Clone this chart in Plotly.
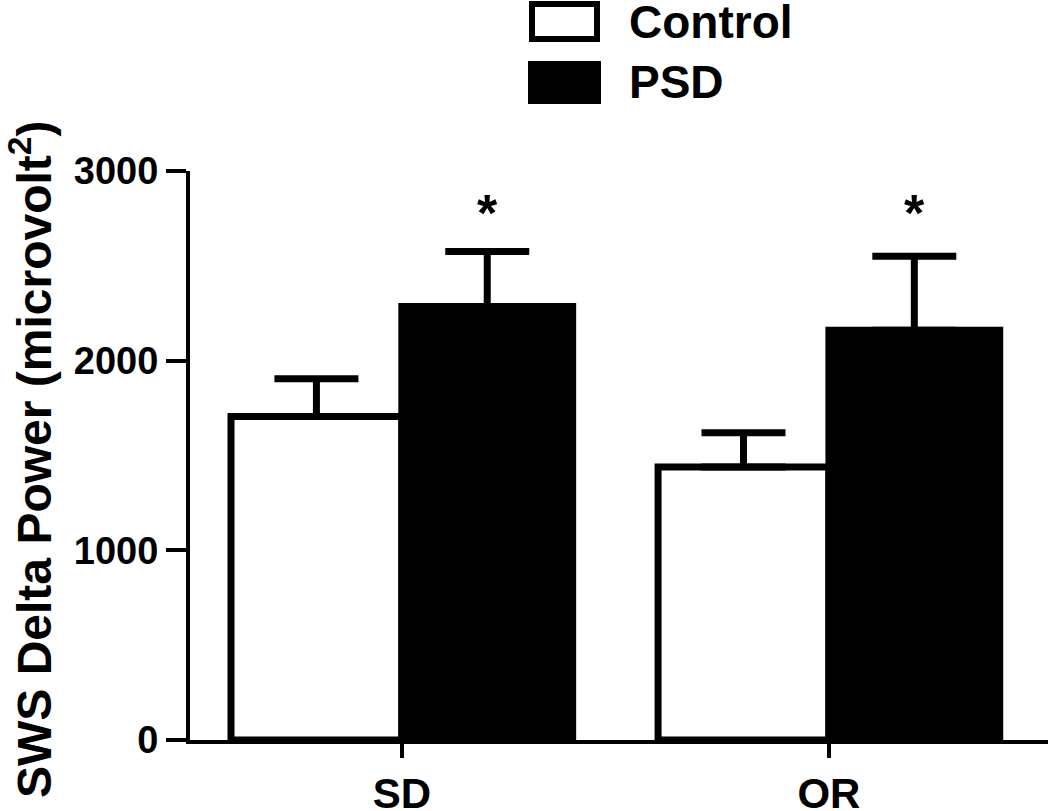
import plotly.graph_objects as go

# ---- data ----
categories = ["SD", "OR"]
series_names = ["Control", "PSD"]
control_mean = [1705, 1440]
control_err = [200, 180]
psd_mean = [2285, 2160]
psd_err = [290, 390]
significance = ["*", "*"]
y_ticks = [0, 1000, 2000, 3000]
y_title = "SWS Delta Power (microvolt<sup>2</sup>)"

# ---- layout constants (pixels) ----
W, H = 1050, 811
PLOT_X0, PLOT_X1, PLOT_Y0, PLOT_Y1 = 190, 1048, 171, 740
L = PLOT_X0
T = PLOT_Y0
PW = PLOT_X1 - PLOT_X0
PH = PLOT_Y1 - PLOT_Y0
R = W - L - PW
B = H - T - PH

def px_x(px):
    return (px - PLOT_X0) / PW

def px_y(py):
    return (PLOT_Y1 - py) / PH

FONT = "Liberation Sans, Arial, sans-serif"
LINE_W = 7

fig = go.Figure()
fig.add_trace(go.Bar(
    x=categories, y=control_mean, name=series_names[0],
    marker=dict(color="white", line=dict(color="black", width=LINE_W)),
    error_y=dict(type="data", array=control_err, arrayminus=[0] * len(control_err),
                 symmetric=False, color="black", thickness=LINE_W, width=42),
    showlegend=False,
))
fig.add_trace(go.Bar(
    x=categories, y=psd_mean, name=series_names[1],
    marker=dict(color="black", line=dict(color="black", width=LINE_W)),
    error_y=dict(type="data", array=psd_err, arrayminus=[0] * len(psd_err),
                 symmetric=False, color="black", thickness=LINE_W, width=42),
    showlegend=False,
))

# significance stars above PSD bars
for i, s in enumerate(significance):
    fig.add_annotation(x=i + 0.2, y=2780, text=s, showarrow=False,
                       font=dict(family=FONT, size=52, color="black", weight="bold"),
                       xref="x", yref="y", yanchor="middle")

# manual legend
boxes = [
    dict(x0=532, x1=597, y0=4, y1=39, fill="white"),
    dict(x0=531, x1=598, y0=64, y1=101, fill="black"),
]
text_y = [22, 82]
for name, b, ty in zip(series_names, boxes, text_y):
    fig.add_shape(type="rect", xref="paper", yref="paper",
                  x0=px_x(b["x0"]), x1=px_x(b["x1"]),
                  y0=px_y(b["y1"]), y1=px_y(b["y0"]),
                  line=dict(color="black", width=6), fillcolor=b["fill"])
    fig.add_annotation(xref="paper", yref="paper", x=px_x(627), y=px_y(ty),
                       xanchor="left", yanchor="middle", text=name, showarrow=False,
                       font=dict(family=FONT, size=46, color="black", weight="bold"))

# y-axis title (rotated text)
fig.add_annotation(xref="paper", yref="paper", x=px_x(31), y=px_y(460),
                   xanchor="center", yanchor="middle", textangle=-90,
                   text=y_title, showarrow=False,
                   font=dict(family=FONT, size=48, color="black", weight="bold"))

fig.update_layout(
    width=W, height=H,
    margin=dict(l=L, r=R, t=T, b=B, pad=0, autoexpand=False),
    paper_bgcolor="white", plot_bgcolor="white",
    barmode="group", bargap=0.2, bargroupgap=0,
    font=dict(family=FONT, color="black", weight="bold"),
    showlegend=False,
)
fig.update_xaxes(
    range=[-0.496, 1.513], showline=True, linecolor="black", linewidth=4,
    ticks="outside", ticklen=14, tickwidth=4, tickcolor="black",
    tickfont=dict(family=FONT, size=42, color="black", weight="bold"),
    showgrid=False, zeroline=False, ticklabelstandoff=0, automargin=False,
)
fig.update_yaxes(
    range=[0, 3000], tickvals=y_ticks, ticktext=[str(v) for v in y_ticks],
    showline=True, linecolor="black", linewidth=4,
    ticks="outside", ticklen=20, tickwidth=4, tickcolor="black",
    tickfont=dict(family=FONT, size=38, color="black", weight="bold"),
    showgrid=False, zeroline=False, automargin=False,
)

fig.write_html(
    "out.html",
    config={"displayModeBar": False},
    post_script="document.body.style.margin='0';document.body.style.overflow='hidden';",
)
